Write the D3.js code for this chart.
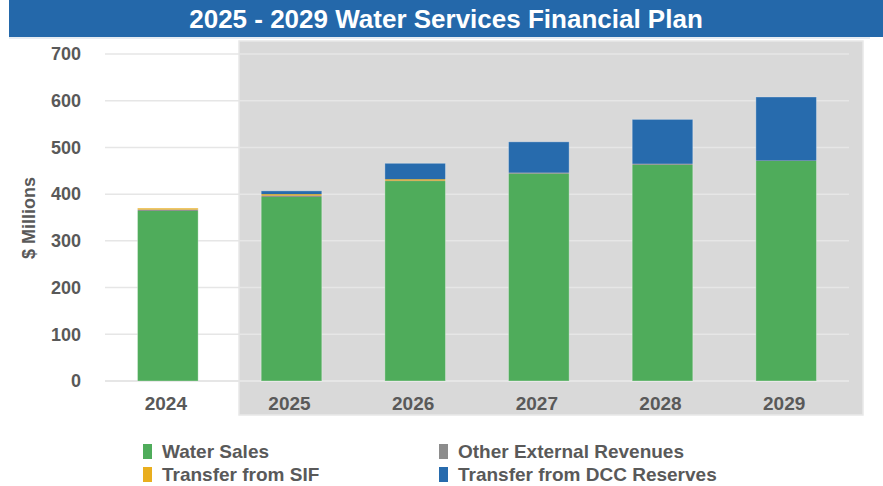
<!DOCTYPE html>
<html>
<head>
<meta charset="utf-8">
<script src="https://cdn.jsdelivr.net/npm/d3@7/dist/d3.min.js"></script>
<style>
  html, body { margin: 0; padding: 0; background: #ffffff; }
  svg { display: block; font-family: "Liberation Sans", Arial, sans-serif; }
</style>
</head>
<body>
<svg id="chart" width="883" height="486"></svg>
<script>
// Revenue sources, $ millions
const years = ["2024", "2025", "2026", "2027", "2028", "2029"];
const waterSales = [364, 394, 428, 444, 463, 471];
const otherExternal = [3, 3, 1, 2, 2, 1];
const transferSIF = [3, 3, 3, 0, 0, 0];
const transferDCC = [0, 7, 34, 66, 95, 136];
const yTicks = [0, 100, 200, 300, 400, 500, 600, 700];

const seriesNames = ["Water Sales", "Other External Revenues", "Transfer from SIF", "Transfer from DCC Reserves"];
const seriesColors = ["#4fac5b", "#8c8c8c", "#e9ae1e", "#276bad"];
const seriesValues = [waterSales, otherExternal, transferSIF, transferDCC];

const rows = years.map((y, i) => {
  const r = { year: y };
  seriesNames.forEach((n, k) => { r[n] = seriesValues[k][i]; });
  return r;
});

const svg = d3.select("#chart");
const textColor = "#595959";

// Title banner
svg.append("rect").attr("x", 9).attr("y", 0).attr("width", 874).attr("height", 37).attr("fill", "#2468aa");
svg.append("line").attr("x1", 9).attr("x2", 870).attr("y1", 38).attr("y2", 38)
  .attr("stroke", "#dfe6ee").attr("stroke-width", 1.5);
svg.append("text").attr("x", 446).attr("y", 28).attr("text-anchor", "middle")
  .attr("fill", "#ffffff").attr("font-weight", "bold").attr("font-size", 26)
  .text("2025 - 2029 Water Services Financial Plan");

// Shaded plan-period panel
svg.append("rect").attr("x", 239).attr("y", 41).attr("width", 624).attr("height", 374)
  .attr("fill", "#d9d9d9").attr("stroke", "#e8e8e8").attr("stroke-width", 1.5);

const x = d3.scaleBand().domain(years).range([106, 848]).paddingInner(0.51).paddingOuter(0.255);
const y = d3.scaleLinear().domain([0, 700]).range([381, 54]);

// Gridlines
svg.append("g").selectAll("line").data(yTicks).join("line")
  .attr("x1", 105).attr("x2", 849)
  .attr("y1", d => y(d)).attr("y2", d => y(d))
  .attr("stroke", "#e6e6e6").attr("stroke-width", d => d === 0 ? 2 : 1.5);

// Y axis labels
const yAxis = d3.axisLeft(y).tickValues(yTicks).tickSize(0).tickPadding(0);
const gy = svg.append("g").attr("transform", "translate(81,0)").call(yAxis);
gy.select(".domain").remove();
gy.selectAll("text").attr("fill", textColor).attr("font-size", 18).attr("font-weight", "bold")
  .attr("font-family", "Liberation Sans, Arial, sans-serif");

// X axis labels
const xAxis = d3.axisBottom(x).tickSize(0).tickPadding(0);
const gx = svg.append("g").attr("transform", "translate(-2,396)").call(xAxis);
gx.select(".domain").remove();
gx.selectAll("text").attr("fill", textColor).attr("font-size", 19).attr("font-weight", "bold")
  .attr("font-family", "Liberation Sans, Arial, sans-serif");

// Y axis title
svg.append("text").attr("transform", "translate(35,218) rotate(-90)")
  .attr("text-anchor", "middle").attr("fill", textColor)
  .attr("font-size", 18).attr("font-weight", "bold").text("$ Millions");

// Stacked bars
const stack = d3.stack().keys(seriesNames);
const layers = stack(rows);
svg.append("g").selectAll("g").data(layers).join("g")
  .attr("fill", (d, i) => seriesColors[i])
  .selectAll("rect").data(d => d).join("rect")
  .attr("x", d => x(d.data.year))
  .attr("width", x.bandwidth())
  .attr("y", d => y(d[1]))
  .attr("height", d => Math.max(0, y(d[0]) - y(d[1])));

// Soft outline around each whole bar
svg.append("g").selectAll("rect").data(rows).join("rect")
  .attr("x", d => x(d.year))
  .attr("width", x.bandwidth())
  .attr("y", d => y(d3.sum(seriesNames, n => d[n])))
  .attr("height", d => y(0) - y(d3.sum(seriesNames, n => d[n])))
  .attr("fill", "none").attr("stroke", "#ffffff").attr("stroke-opacity", 0.3).attr("stroke-width", 1);

// Legend
const legendPos = [
  { x: 143, y: 444 }, { x: 439, y: 444 },
  { x: 143, y: 467 }, { x: 439, y: 467 }
];
// order: Water Sales, Other External, SIF, DCC
const lg = svg.append("g").selectAll("g").data(seriesNames).join("g")
  .attr("transform", (d, i) => `translate(${legendPos[i].x},${legendPos[i].y})`);
lg.append("rect").attr("width", 9).attr("height", 15).attr("fill", (d, i) => seriesColors[i]);
lg.append("text").attr("x", 19).attr("y", 14).attr("fill", textColor)
  .attr("font-size", 19).attr("font-weight", "bold").text(d => d);
</script>
</body>
</html>
